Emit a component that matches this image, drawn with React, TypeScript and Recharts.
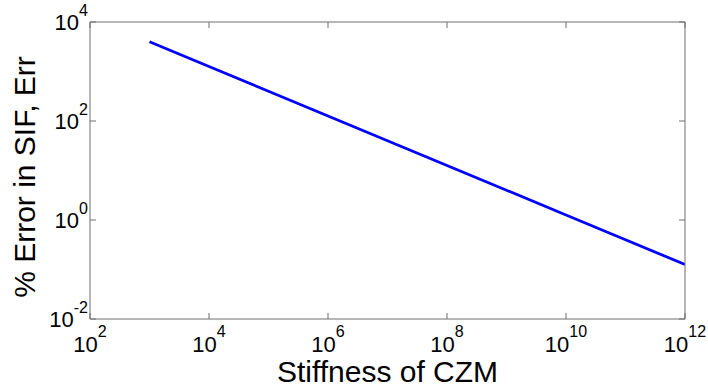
import { Line, LineChart, XAxis, YAxis } from "recharts";

// stiffness of CZM (x) and % error in SIF (y)
const stiffness = [1e3, 1e4, 1e5, 1e6, 1e7, 1e8, 1e9, 1e10, 1e11, 1e12];
const errPercent = [4000, 1260, 400, 126, 40, 12.6, 4, 1.26, 0.4, 0.126];

const xTicks = [1e2, 1e4, 1e6, 1e8, 1e10, 1e12];
const yTicks = [1e-2, 1e0, 1e2, 1e4];

const data = stiffness.map((k, i) => ({ k, err: errPercent[i] }));

const FONT = "'Liberation Sans', Arial, sans-serif";
const AXIS = "#6e6e6e";

const expOf = (v: number) => Math.round(Math.log10(v));

function BottomTick(props: any) {
  const { x, y, payload } = props;
  return (
    <g>
      <line x1={x} y1={y} x2={x} y2={y - 6} stroke={AXIS} />
      <text x={x} y={y + 33} textAnchor="middle" fontFamily={FONT} fontSize={22} fill="#000">
        10<tspan fontSize={16} dy={-15}>{expOf(payload.value)}</tspan>
      </text>
    </g>
  );
}

function LeftTick(props: any) {
  const { x, y, payload } = props;
  return (
    <g>
      <line x1={x} y1={y} x2={x + 6} y2={y} stroke={AXIS} />
      <text x={x - 2} y={y + 8} textAnchor="end" fontFamily={FONT} fontSize={22} fill="#000">
        10<tspan fontSize={16} dy={-14}>{expOf(payload.value)}</tspan>
      </text>
    </g>
  );
}

function TopTick(props: any) {
  const { x, y } = props;
  return <line x1={x} y1={y} x2={x} y2={y + 6} stroke={AXIS} />;
}

function RightTick(props: any) {
  const { x, y } = props;
  return <line x1={x} y1={y} x2={x - 6} y2={y} stroke={AXIS} />;
}

export default function App() {
  return (
    <div style={{ position: "absolute", left: 0, top: 0, width: 708, height: 391, background: "#fff" }}>
      <LineChart width={708} height={391} data={data} margin={{ top: 21, right: 22, bottom: 0, left: 0 }}>
        <XAxis
          dataKey="k"
          type="number"
          scale="log"
          domain={[1e2, 1e12]}
          allowDataOverflow
          ticks={xTicks}
          interval={0}
          height={72}
          tickSize={0}
          tickMargin={0}
          stroke={AXIS}
          tick={<BottomTick />}
          label={(p: any) => (
            <text x={p.viewBox.x + p.viewBox.width / 2} y={382} textAnchor="middle" fontFamily={FONT} fontSize={30} fill="#000">
              Stiffness of CZM
            </text>
          )}
        />
        <XAxis
          xAxisId="top"
          orientation="top"
          dataKey="k"
          type="number"
          scale="log"
          domain={[1e2, 1e12]}
          allowDataOverflow
          ticks={xTicks}
          interval={0}
          height={1}
          tickSize={0}
          tickMargin={0}
          stroke={AXIS}
          tick={<TopTick />}
        />
        <YAxis
          type="number"
          scale="log"
          domain={[1e-2, 1e4]}
          allowDataOverflow
          ticks={yTicks}
          interval={0}
          width={90}
          tickSize={0}
          tickMargin={0}
          stroke={AXIS}
          tick={<LeftTick />}
          label={() => (
            <text x={35} y={177} transform="rotate(-90 35 177)" textAnchor="middle" fontFamily={FONT} fontSize={30} fill="#000">
              % Error in SIF, Err
            </text>
          )}
        />
        <YAxis
          yAxisId="right"
          orientation="right"
          type="number"
          scale="log"
          domain={[1e-2, 1e4]}
          allowDataOverflow
          ticks={yTicks}
          interval={0}
          width={1}
          tickSize={0}
          tickMargin={0}
          stroke={AXIS}
          tick={<RightTick />}
        />
        <Line dataKey="err" stroke="#0000ff" strokeWidth={2.8} dot={false} isAnimationActive={false} />
      </LineChart>
    </div>
  );
}
